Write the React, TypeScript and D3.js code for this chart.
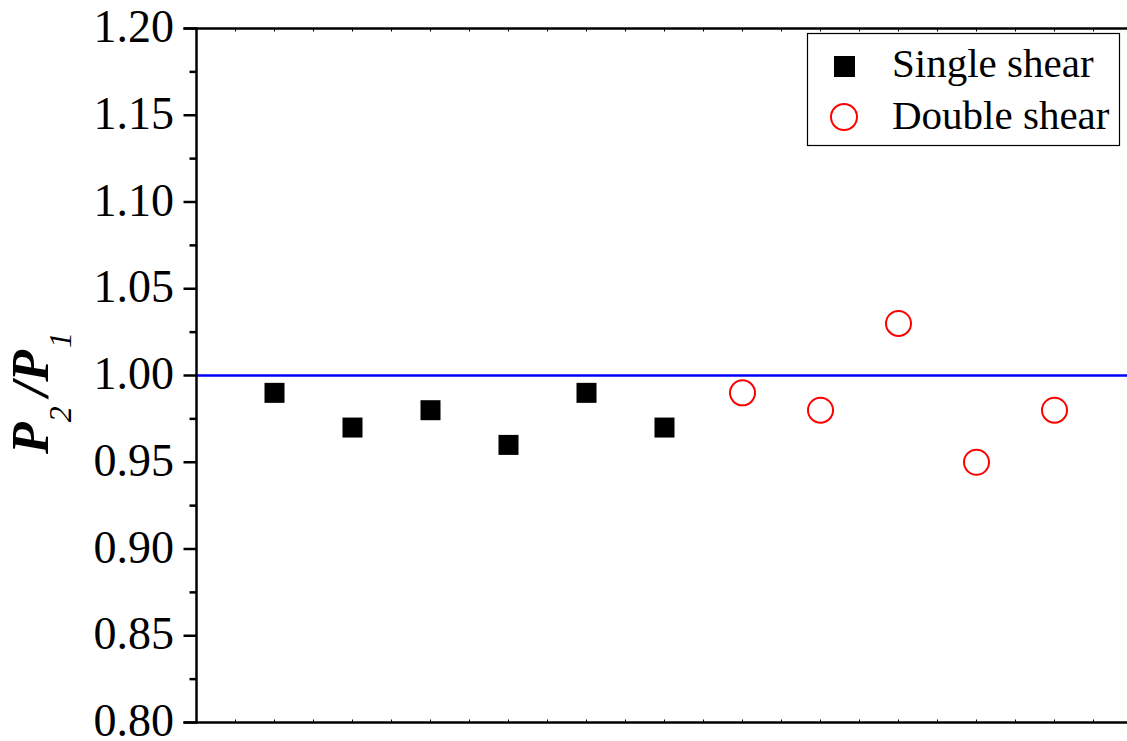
import React from "react";
import * as d3 from "d3";

const singleX = [1, 2, 3, 4, 5, 6];
const singleY = [0.99, 0.97, 0.98, 0.96, 0.99, 0.97];
const doubleX = [7, 8, 9, 10, 11];
const doubleY = [0.99, 0.98, 1.03, 0.95, 0.98];
const yTicks = [0.8, 0.85, 0.9, 0.95, 1.0, 1.05, 1.1, 1.15, 1.2];
const legendLabels = ["Single shear", "Double shear"];
const refValue = 1.0;

const W = 1127;
const H = 741;
const FONT = "'Liberation Serif', 'Times New Roman', serif";

export default function App() {
  const x = d3.scaleLinear().domain([0, 12]).range([196.5, 1132.5]);
  const y = d3.scaleLinear().domain([0.8, 1.2]).range([722.5, 28.5]);
  const minorY = d3.range(0.825, 1.2, 0.05);
  const xTicks = d3.range(0.5, 12, 0.5);
  const [x0, x1] = x.range();
  const [yb, yt] = y.range();

  return (
    <svg
      width={W}
      height={H}
      style={{ position: "absolute", left: 0, top: 0, background: "#fff" }}
      fontFamily={FONT}
    >
      {/* reference line */}
      <line x1={x0} x2={x1} y1={y(refValue)} y2={y(refValue)} stroke="#0000ff" strokeWidth={2.5} />

      {/* axes frame */}
      <line x1={x0} x2={x0} y1={yb + 1} y2={yt - 1} stroke="#000" strokeWidth={2.5} />
      <line x1={x0 - 13} x2={x1} y1={yb} y2={yb} stroke="#000" strokeWidth={2.5} />
      <line x1={x0 - 13} x2={x1} y1={yt} y2={yt} stroke="#000" strokeWidth={2.5} />

      {/* y major ticks */}
      {yTicks.map((t) => (
        <g key={t}>
          <line x1={x0 - 13} x2={x0} y1={y(t)} y2={y(t)} stroke="#000" strokeWidth={2.5} />
          <text
            x={174}
            y={y(t) + 13.5}
            textAnchor="end"
            fontSize={46}
            fill="#000"
          >
            {t.toFixed(2)}
          </text>
        </g>
      ))}
      {minorY.map((t) => (
        <line key={t} x1={x0 - 7} x2={x0} y1={y(t)} y2={y(t)} stroke="#000" strokeWidth={2.5} />
      ))}

      {/* x tiny inner ticks top & bottom */}
      {xTicks.map((t) => (
        <g key={t}>
          <line x1={x(t)} x2={x(t)} y1={yb} y2={yb - 3} stroke="#000" strokeWidth={1} />
          <line x1={x(t)} x2={x(t)} y1={yt} y2={yt + 3} stroke="#000" strokeWidth={1} />
        </g>
      ))}

      {/* single shear */}
      {singleX.map((v, i) => (
        <rect
          key={i}
          x={x(v) - 10}
          y={y(singleY[i]) - 10}
          width={20}
          height={20}
          fill="#000"
        />
      ))}
      {/* double shear */}
      {doubleX.map((v, i) => (
        <circle
          key={i}
          cx={x(v)}
          cy={y(doubleY[i])}
          r={12.5}
          fill="none"
          stroke="#ff0000"
          strokeWidth={2}
        />
      ))}

      {/* legend */}
      <rect x={807.5} y={33.5} width={312} height={112} fill="#fff" stroke="#000" strokeWidth={1.2} />
      <rect x={834} y={56} width={21} height={21} fill="#000" />
      <circle cx={844} cy={117} r={13} fill="none" stroke="#ff0000" strokeWidth={2} />
      <text x={892} y={77} fontSize={41} fill="#000">{legendLabels[0]}</text>
      <text x={892} y={129} fontSize={41} fill="#000">{legendLabels[1]}</text>

      {/* y axis label */}
      <g transform="translate(48,454) rotate(-90)">
        <text x={0} y={0} fill="#000" fontSize={52}>
          <tspan fontWeight="bold" fontStyle="italic">P</tspan>
          <tspan fontStyle="italic" fontSize={32} dy={23}>2</tspan>
          <tspan fontWeight="bold" fontStyle="italic" dy={-23} dx={10}>/</tspan>
          <tspan fontWeight="bold" fontStyle="italic">P</tspan>
          <tspan fontStyle="italic" fontSize={32} dy={23} dx={2}>1</tspan>
        </text>
      </g>
    </svg>
  );
}
